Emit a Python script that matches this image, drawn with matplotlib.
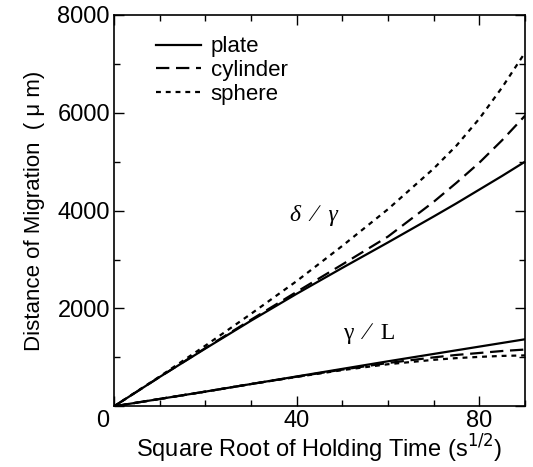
import numpy as np
import matplotlib
matplotlib.use("Agg")
import matplotlib.pyplot as plt
from matplotlib.ticker import MultipleLocator, FuncFormatter

# square root of holding time (s^1/2)
root_t = [0, 10, 20, 30, 40, 50, 60, 70, 75, 80, 85, 90]

# delta / gamma migration (upper group), um
plate_dg = [0, 600, 1180, 1750, 2300, 2830, 3350, 3880, 4150, 4430, 4710, 5000]
cyl_dg = [0, 600, 1190, 1770, 2340, 2900, 3470, 4180, 4570, 4980, 5440, 5940]
sph_dg = [0, 610, 1240, 1890, 2560, 3280, 4030, 4860, 5330, 5880, 6520, 7230]

# gamma / L migration (lower group), um
plate_gl = [0, 150, 300, 455, 610, 765, 920, 1070, 1145, 1220, 1295, 1370]
cyl_gl = [0, 150, 300, 455, 605, 750, 885, 1000, 1050, 1090, 1130, 1160]
sph_gl = [0, 150, 300, 455, 600, 740, 860, 950, 985, 1010, 1030, 1040]

plt.rcParams['font.family'] = ['Liberation Sans', 'DejaVu Sans']

fig = plt.figure(figsize=(5.33, 4.67), dpi=100)
ax = fig.add_axes([0.214, 0.13, 0.771, 0.838])

lw = 1.6
dash = (0, (6, 3))
dot = (0, (2.2, 2.2))
ax.plot(root_t, plate_dg, color="black", lw=lw, ls="-", label="plate")
ax.plot(root_t, cyl_dg, color="black", lw=lw, ls=dash, label="cylinder")
ax.plot(root_t, sph_dg, color="black", lw=lw, ls=dot, label="sphere")
ax.plot(root_t, plate_gl, color="black", lw=lw, ls="-")
ax.plot(root_t, cyl_gl, color="black", lw=lw, ls=dash)
ax.plot(root_t, sph_gl, color="black", lw=lw, ls=dot)

ax.set_xlim(0, 90)
ax.set_ylim(0, 8000)
ax.xaxis.set_major_locator(MultipleLocator(40))
ax.xaxis.set_minor_locator(MultipleLocator(10))
ax.yaxis.set_major_locator(MultipleLocator(2000))
ax.yaxis.set_minor_locator(MultipleLocator(1000))
# one shared "0" sits at the corner, so both axes drop their own
no_zero = FuncFormatter(lambda v, p: "" if v == 0 else "%d" % v)
ax.xaxis.set_major_formatter(no_zero)
ax.yaxis.set_major_formatter(no_zero)
ax.tick_params(which="both", direction="in", top=True, right=True, width=1.0)
ax.tick_params(which="major", length=7, labelsize=17, pad=3)
ax.tick_params(which="minor", length=4)
for s in ax.spines.values():
    s.set_linewidth(1.2)

ax.annotate("0", xy=(0, 0), xycoords="data", xytext=(-8.5, -3), textcoords="offset points",
            ha="center", va="top", fontsize=17)

ax.set_xlabel("Square Root of Holding Time (s$^{1/2}$)", fontsize=17, labelpad=0)
ax.set_ylabel("Distance of Migration  ( μ m)", fontsize=16, labelpad=9)

ax.text(43.7, 3900, "δ  ∕  γ", fontsize=17, family=["Liberation Serif", "DejaVu Serif"],
        ha="center", va="center", style="italic")
ax.text(55.8, 1490, "γ  ∕  L", fontsize=17, family=["Liberation Serif", "DejaVu Serif"],
        ha="center", va="center")

ax.legend(loc="upper left", bbox_to_anchor=(0.065, 0.985), frameon=False, fontsize=16,
          handlelength=2.0, labelspacing=0.12, handletextpad=0.45, borderaxespad=0.3)

fig.savefig("out.png", dpi=100)
